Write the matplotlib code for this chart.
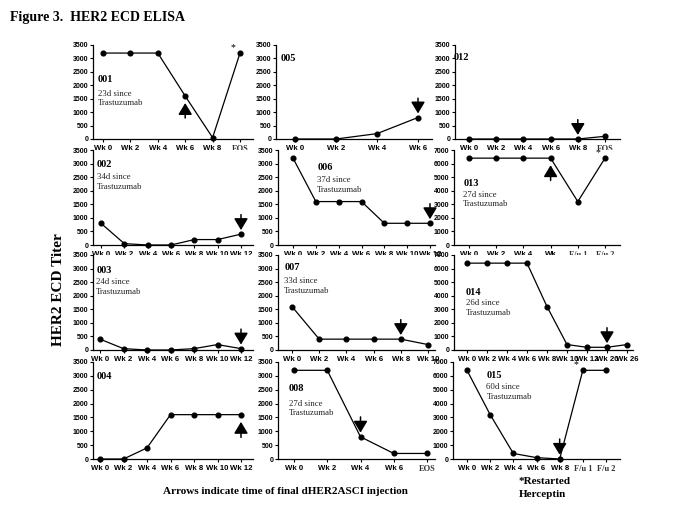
import matplotlib
matplotlib.use("Agg")
import matplotlib.pyplot as plt

plt.rcParams['font.family'] = 'Liberation Sans'
SERIF = 'Liberation Serif'

W, H = 685, 513

# ---- data ----
wk7 = ['Wk 0', 'Wk 2', 'Wk 4', 'Wk 6', 'Wk 8', 'Wk 10', 'Wk 12']

labels_001 = ['Wk 0', 'Wk 2', 'Wk 4', 'Wk 6', 'Wk 8', 'EOS']
titer_001 = [3200, 3200, 3200, 1600, 50, 3200]

labels_005 = ['Wk 0', 'Wk 2', 'Wk 4', 'Wk 6']
titer_005 = [0, 0, 200, 800]

labels_012 = ['Wk 0', 'Wk 2', 'Wk 4', 'Wk 6', 'Wk 8', 'EOS']
titer_012 = [0, 0, 0, 0, 0, 100]

labels_002 = wk7
titer_002 = [800, 50, 0, 0, 200, 200, 400]

labels_006 = wk7
titer_006 = [3200, 1600, 1600, 1600, 800, 800, 800]

labels_013 = ['Wk 0', 'Wk 2', 'Wk 4', 'Wk', 'F/u 1', 'F/u 2']
titer_013 = [6400, 6400, 6400, 6400, 3200, 6400]

labels_003 = wk7
titer_003 = [400, 50, 0, 0, 50, 200, 50]

labels_007 = ['Wk 0', 'Wk 2', 'Wk 4', 'Wk 6', 'Wk 8', 'Wk 10']
titer_007 = [1600, 400, 400, 400, 400, 200]

labels_014 = ['Wk 0', 'Wk 2', 'Wk 4', 'Wk 6', 'Wk 8', 'Wk 10', 'Wk 12', 'Wk 20', 'Wk 26']
titer_014 = [6400, 6400, 6400, 6400, 3200, 400, 200, 200, 400]

labels_004 = wk7
titer_004 = [0, 0, 400, 1600, 1600, 1600, 1600]

labels_008 = ['Wk 0', 'Wk 2', 'Wk 4', 'Wk 6', 'EOS']
titer_008 = [3200, 3200, 800, 200, 200]

labels_015 = ['Wk 0', 'Wk 2', 'Wk 4', 'Wk 6', 'Wk 8', 'F/u 1', 'F/u 2']
titer_015 = [6400, 3200, 400, 100, 0, 6400, 6400]

# panel: id, labels, values, ymax, note, arrow (index, 'up'/'down'), asterisk index, serif tick labels
panels = [
    ('001', labels_001, titer_001, 3500, '23d since\nTrastuzumab', (3, 'up'), 5, ['EOS']),
    ('005', labels_005, titer_005, 3500, None, (3, 'down'), None, []),
    ('012', labels_012, titer_012, 3500, None, (4, 'down'), None, ['EOS']),
    ('002', labels_002, titer_002, 3500, '34d since\nTrastuzumab', (6, 'down'), None, []),
    ('006', labels_006, titer_006, 3500, '37d since\nTrastuzumab', (6, 'down'), None, []),
    ('013', labels_013, titer_013, 7000, '27d since\nTrastuzumab', (3, 'up'), 5, ['F/u 1', 'F/u 2']),
    ('003', labels_003, titer_003, 3500, '24d since\nTrastuzumab', (6, 'down'), None, []),
    ('007', labels_007, titer_007, 3500, '33d since\nTrastuzumab', (4, 'down'), None, []),
    ('014', labels_014, titer_014, 7000, '26d since\nTrastuzumab', (7, 'down'), None, []),
    ('004', labels_004, titer_004, 3500, None, (6, 'up'), None, []),
    ('008', labels_008, titer_008, 3500, '27d since\nTrastuzumab', (2, 'down'), None, ['EOS']),
    ('015', labels_015, titer_015, 7000, '60d since\nTrastuzumab', (4, 'down'), 5, ['F/u 1', 'F/u 2']),
]

# ---- layout in pixels: axis left, axis right, first point, last point ----
cols = {
    '001': (93, 253, 103, 240), '005': (276, 432, 295, 418), '012': (455, 620, 469, 605),
    '002': (93, 253, 101, 241), '006': (278, 435, 293, 430), '013': (454, 620, 469, 605),
    '003': (93, 253, 100, 241), '007': (278, 435, 292, 428), '014': (454, 633, 467, 627),
    '004': (93, 253, 100, 241), '008': (278, 435, 294, 427), '015': (453, 620, 467, 606),
}
rows = [(45, 139), (150, 245), (255, 350), (362, 459)]
# id / note positions in axes fraction: (x, y_id, y_note)
text_pos = {
    '001': (0.03, 0.63, 0.43), '005': (0.03, 0.86, None), '012': (-0.01, 0.87, None),
    '002': (0.025, 0.85, 0.66), '006': (0.25, 0.82, 0.63), '013': (0.055, 0.65, 0.48),
    '003': (0.02, 0.84, 0.66), '007': (0.04, 0.87, 0.67), '014': (0.065, 0.60, 0.44),
    '004': (0.025, 0.85, None), '008': (0.07, 0.73, 0.52), '015': (0.20, 0.86, 0.69),
}

fig = plt.figure(figsize=(W / 100, H / 100), dpi=100)

for k, (pid, labels, vals, ymax, note, arrow, star, serif_labels) in enumerate(panels):
    top, bot = rows[k // 3]
    left, right, first, last = cols[pid]
    ax = fig.add_axes([left / W, 1 - bot / H, (right - left) / W, (bot - top) / H])
    n = len(vals)
    dpp = (n - 1) / (last - first)
    x = list(range(n))
    ax.plot(x, vals, color='black', lw=0.9, marker='o', ms=3.4, clip_on=False, zorder=3)
    ax.set_xlim(-(first - left) * dpp, (n - 1) + (right - last) * dpp)
    ax.set_ylim(0, ymax)
    step = 500 if ymax == 3500 else 1000
    ax.set_yticks(range(0, ymax + 1, step))
    ax.set_xticks(x)
    ax.set_xticklabels(labels)
    for sp in ['top', 'right']:
        ax.spines[sp].set_visible(False)
    for sp in ['left', 'bottom']:
        ax.spines[sp].set_linewidth(0.9)
    ax.tick_params(axis='y', labelsize=5, length=2.5, width=0.8, pad=0.8)
    ax.tick_params(axis='x', labelsize=5.6, length=2.5, width=0.8, pad=1.5)
    for t in ax.get_yticklabels() + ax.get_xticklabels():
        t.set_fontweight('bold')
    for t in ax.get_xticklabels():
        if t.get_text() in serif_labels:
            t.set_fontfamily(SERIF)
            t.set_fontsize(6)
            t.set_color('#333333')

    tx, ty_id, ty_note = text_pos[pid]
    ax.text(tx, ty_id, pid, transform=ax.transAxes, family=SERIF, fontweight='bold',
            fontsize=7.5, va='center', ha='left')
    if note:
        ax.text(tx, ty_note, note, transform=ax.transAxes, family=SERIF, fontsize=6.3,
                va='center', ha='left', linespacing=1.3, color='#222222')

    scale = ymax / 3500
    i, direction = arrow
    v = vals[i]
    if direction == 'down':
        tail, tip = v + 720 * scale, v + 150 * scale
    else:
        tail, tip = v - 820 * scale, v - 260 * scale
    ax.annotate('', xy=(i, tip), xytext=(i, tail),
                arrowprops=dict(arrowstyle='-|>,head_length=0.5,head_width=0.3',
                                color='black', lw=1.1, mutation_scale=14, shrinkA=0, shrinkB=0),
                annotation_clip=False)
    if star is not None:
        ax.annotate('*', xy=(star, vals[star]), xytext=(-5, 1), textcoords='offset points',
                    family=SERIF, fontsize=7, ha='center', va='bottom', annotation_clip=False)

fig.text(10 / W, 1 - 18 / H, 'Figure 3.  HER2 ECD ELISA', family=SERIF, fontweight='bold',
         fontsize=10, ha='left', va='center')
fig.text(58 / W, 1 - 290 / H, 'HER2 ECD Titer', family=SERIF, fontweight='bold',
         fontsize=11, rotation=90, ha='center', va='center')
fig.text(285 / W, 1 - 492 / H, 'Arrows indicate time of final dHER2ASCI injection',
         family=SERIF, fontweight='bold', fontsize=8, ha='center', va='center')
fig.text(519 / W, 1 - 488 / H, '*Restarted\nHerceptin', family=SERIF, fontweight='bold',
         fontsize=8, ha='left', va='center', linespacing=1.5)

fig.savefig('out.png', dpi=100)
